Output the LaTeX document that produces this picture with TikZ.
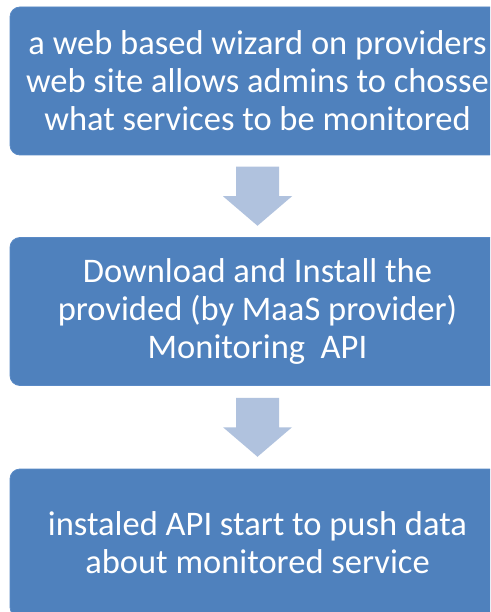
\documentclass[tikz,border=0pt]{standalone}
\usepackage{fontspec}
\setmainfont{Carlito}
\usetikzlibrary{calc}
\definecolor{stepblue}{HTML}{4F81BD}
\definecolor{stepedge}{HTML}{5A8AC6}
\definecolor{flowarrow}{HTML}{B0C2DE}
\tikzset{
  stepbox/.style={rectangle, rounded corners=10pt, fill=stepblue, draw=stepedge,
    line width=0.8pt, minimum width=495pt, minimum height=148pt,
    text=white, align=center, inner sep=0pt,
    font=\fontsize{34.5}{38}\selectfont},
  arrowshape/.style={fill=flowarrow}
}
% down arrow centred between two nodes
\newcommand\downflow[2]{%
  \coordinate (m) at ($(#1.south)!0.5!(#2.north)$);
  \fill[arrowshape] ([shift={(-21.5,-29.5)}]m) -- ([shift={(21.5,-29.5)}]m)
    -- ([shift={(21.5,0)}]m) -- ([shift={(34.5,0)}]m) -- ([shift={(0,29.5)}]m)
    -- ([shift={(-34.5,0)}]m) -- ([shift={(-21.5,0)}]m) -- cycle;}
\begin{document}
\begin{tikzpicture}[x=1pt,y=-1pt]
  \useasboundingbox (0,0) rectangle (490,612);
  \clip (0,0) rectangle (490,612);
  \fill[white] (0,0) rectangle (490,612);
  \node[stepbox] (b1) at (257.5,81) {a web based wizard on providers\\web site allows admins to chosse\\what services to be monitored};
  \node[stepbox] (b2) at (257.5,311.5) {Download and Install the\\provided (by MaaS provider)\\Monitoring\ \ API};
  \node[stepbox] (b3) at (257.5,543) {instaled API start to push data\\about monitored service};
  \downflow{b1}{b2}
  \downflow{b2}{b3}
\end{tikzpicture}
\end{document}
